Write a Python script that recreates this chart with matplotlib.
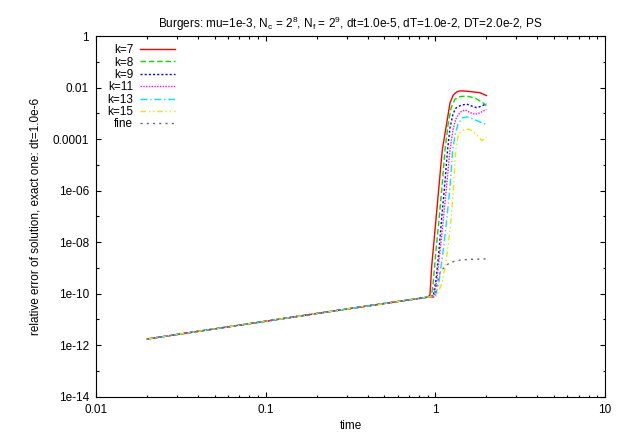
import numpy as np
import matplotlib
matplotlib.use('Agg')
import matplotlib.pyplot as plt
from matplotlib.ticker import FixedLocator, FixedFormatter, LogLocator, NullFormatter

plt.rcParams['font.family'] = ['Liberation Sans', 'DejaVu Sans']
plt.rcParams['mathtext.default'] = 'regular'

# shared part of all curves (t < ~0.9)
base_t = [0.02, 0.05, 0.1, 0.2, 0.5, 0.9]
base_err = [1.74e-12, 4.3e-12, 8.5e-12, 1.7e-11, 4.15e-11, 7.3e-11]

# rise after t ~ 1 (log10 of error)
k7_t = [0.93, 0.952, 0.986, 1.019, 1.065, 1.099, 1.167, 1.22, 1.276, 1.336, 1.40, 1.53, 1.83, 2.0]
k7_log = [-10.05, -8.93, -7.83, -6.80, -5.40, -4.43, -3.38, -2.60, -2.29, -2.17, -2.13, -2.14, -2.20, -2.31]

k8_t = [0.945, 0.969, 1.009, 1.051, 1.094, 1.14, 1.19, 1.237, 1.306, 1.405, 1.53, 1.714, 1.88, 2.0]
k8_log = [-10.13, -9.67, -8.31, -7.14, -5.86, -4.43, -3.42, -2.80, -2.45, -2.35, -2.33, -2.41, -2.56, -2.70]

k9_t = [0.969, 1.009, 1.051, 1.087, 1.133, 1.18, 1.22, 1.27, 1.32, 1.405, 1.53, 1.64, 1.75, 1.88, 2.0]
k9_log = [-10.13, -9.47, -8.31, -7.14, -5.86, -4.43, -3.57, -3.03, -2.80, -2.70, -2.64, -2.72, -2.78, -2.72, -2.62]

k11_t = [0.98, 1.02, 1.065, 1.114, 1.164, 1.22, 1.27, 1.32, 1.405, 1.496, 1.60, 1.714, 1.82, 2.0]
k11_log = [-10.13, -9.47, -8.38, -7.14, -5.86, -4.43, -3.65, -3.22, -2.95, -2.87, -2.97, -3.04, -2.99, -2.85]

k13_t = [1.0, 1.051, 1.11, 1.167, 1.22, 1.266, 1.306, 1.36, 1.44, 1.54, 1.64, 1.78, 2.0]
k13_log = [-10.09, -9.55, -8.38, -7.14, -5.86, -4.43, -3.84, -3.42, -3.18, -3.14, -3.20, -3.30, -3.44]

k15_t = [1.02, 1.094, 1.16, 1.21, 1.237, 1.28, 1.318, 1.37, 1.46, 1.565, 1.67, 1.78, 1.88, 2.0]
k15_log = [-10.09, -9.59, -8.70, -7.73, -7.14, -5.86, -4.43, -3.80, -3.65, -3.61, -3.71, -3.88, -4.06, -3.92]

fine_t = [1.0, 1.03, 1.065, 1.114, 1.16, 1.22, 1.30, 1.40, 1.56, 1.8, 2.0]
fine_log = [-10.05, -9.55, -9.20, -9.02, -8.90, -8.80, -8.74, -8.70, -8.67, -8.66, -8.65]

labels = ['k=7', 'k=8', 'k=9', 'k=11', 'k=13', 'k=15', 'fine']
colors = ['#ff0000', '#00e000', '#0000ff', '#ff00ff', '#00e8e8', '#e8e800', '#666666']
styles = ['-', (0, (4, 2)), (0, (1.5, 1.5)), (0, (1, 1)), (0, (5, 2, 1, 2)), (0, (4, 2, 1, 2, 1, 2)), (0, (1.5, 3))]
rises = [(k7_t, k7_log), (k8_t, k8_log), (k9_t, k9_log), (k11_t, k11_log),
         (k13_t, k13_log), (k15_t, k15_log), (fine_t, fine_log)]

ytick_vals = [1, 1e-2, 1e-4, 1e-6, 1e-8, 1e-10, 1e-12, 1e-14]
ytick_labels = ['1', '0.01', '0.0001', '1e-06', '1e-08', '1e-10', '1e-12', '1e-14']
xtick_vals = [0.01, 0.1, 1, 10]
xtick_labels = ['0.01', '0.1', '1', '10']

fig = plt.figure(figsize=(6.23, 4.36), dpi=100)
ax = fig.add_axes([0.1541, 0.0901, 0.817, 0.8273])

for (rt, rl), lab, c, ls in zip(rises, labels, colors, styles):
    t = list(base_t) + list(rt)
    e = list(base_err) + [10.0 ** v for v in rl]
    ax.plot(t, e, color=c, linestyle=ls, linewidth=1.0, label=lab)

ax.set_xscale('log')
ax.set_yscale('log')
ax.set_xlim(0.01, 10)
ax.set_ylim(1e-14, 1)

ax.yaxis.set_major_locator(FixedLocator(ytick_vals))
ax.yaxis.set_major_formatter(FixedFormatter(ytick_labels))
ax.yaxis.set_minor_locator(FixedLocator([1e-1, 1e-3, 1e-5, 1e-7, 1e-9, 1e-11, 1e-13]))
ax.yaxis.set_minor_formatter(NullFormatter())
ax.xaxis.set_major_locator(FixedLocator(xtick_vals))
ax.xaxis.set_major_formatter(FixedFormatter(xtick_labels))
ax.xaxis.set_minor_locator(LogLocator(base=10, subs=np.arange(2, 10)))
ax.xaxis.set_minor_formatter(NullFormatter())

ax.tick_params(which='both', direction='in', top=True, right=True, labelsize=8.5, width=0.8)
ax.tick_params(which='major', length=3.6, pad=5)
ax.tick_params(which='minor', length=1.8)
for sp in ax.spines.values():
    sp.set_linewidth(0.8)

ax.set_title('Burgers: mu=1e-3, N$_c$ = 2$^8$, N$_f$ = 2$^9$, dt=1.0e-5, dT=1.0e-2, DT=2.0e-2, PS',
             fontsize=8.5, pad=6)
ax.set_xlabel('time', fontsize=8.5, labelpad=3)
ax.set_ylabel('relative error of solution, exact one: dt=1.0e-6', fontsize=8.5, labelpad=8)

ax.legend(loc='upper left', frameon=False, markerfirst=False, fontsize=8.5,
          handlelength=2.9, handletextpad=0.6, labelspacing=0.03,
          borderaxespad=0.3, bbox_to_anchor=(0.006, 1.0))

fig.savefig('out.png', dpi=100)
